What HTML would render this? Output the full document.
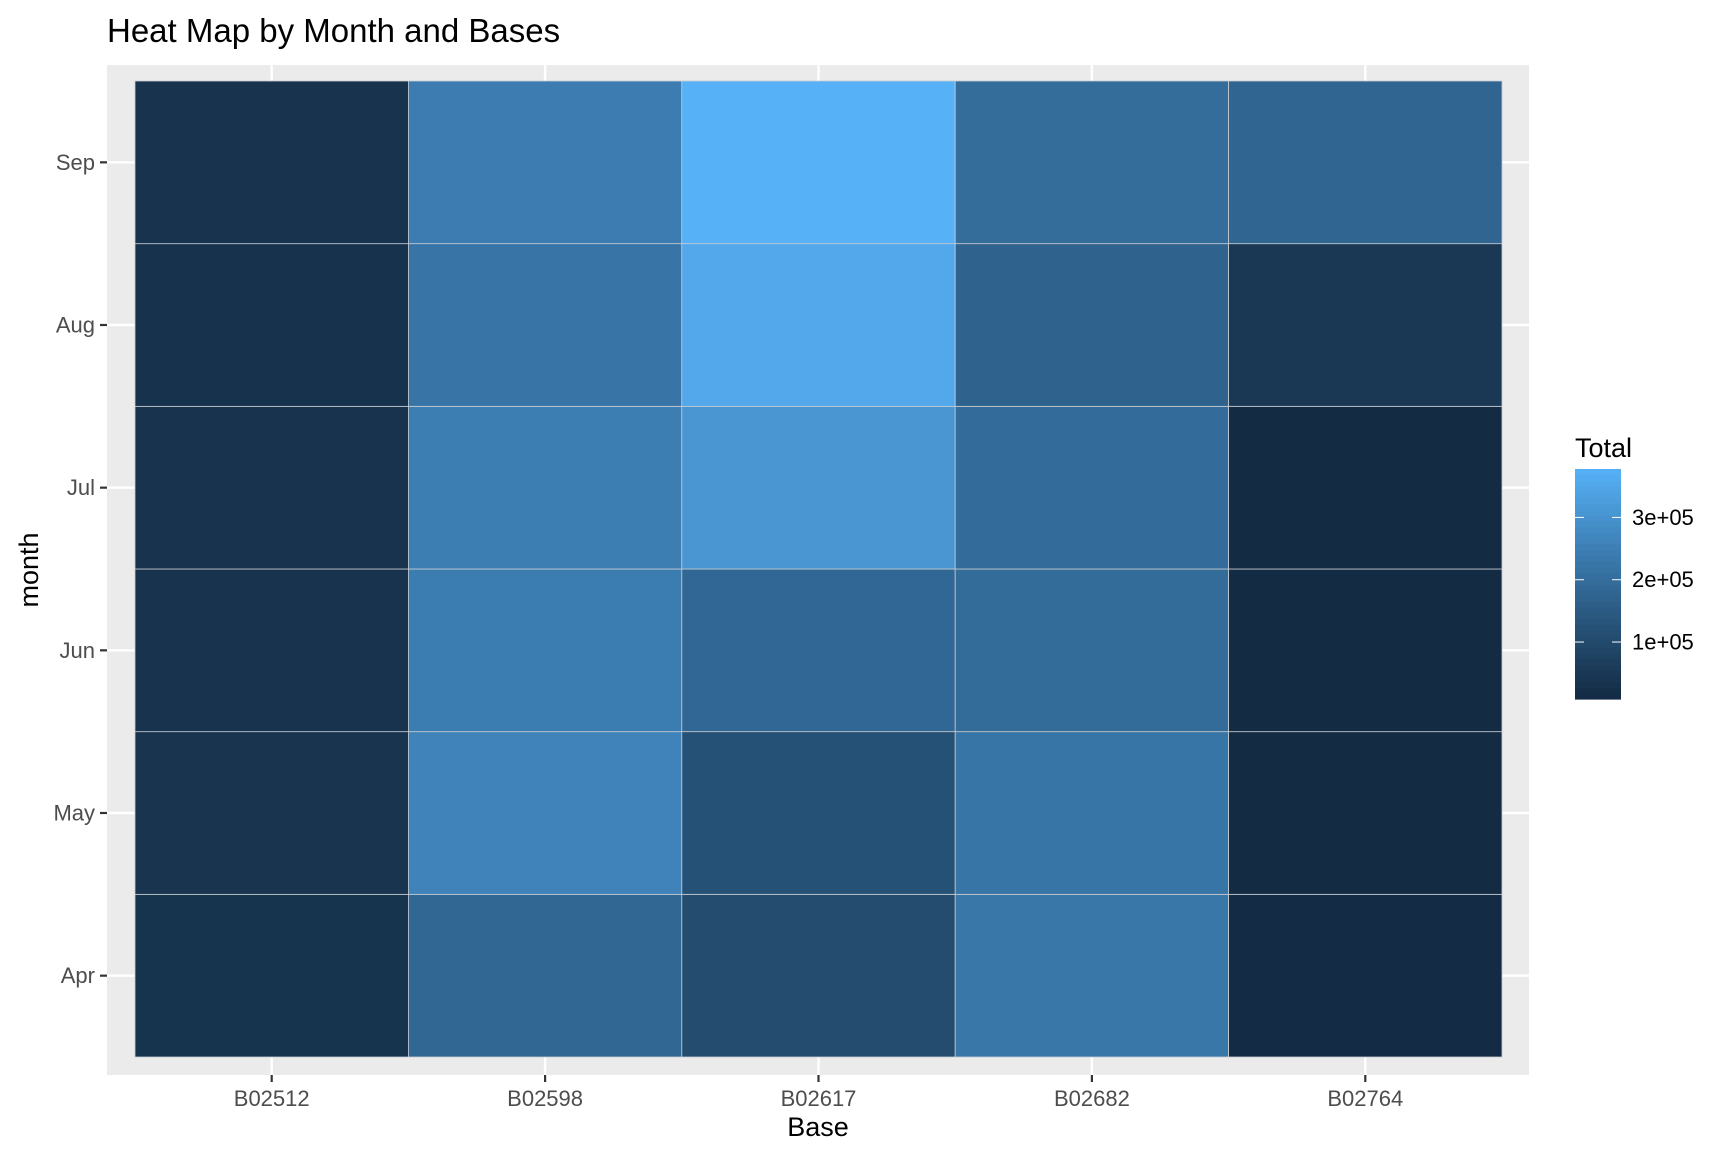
<!DOCTYPE html>
<html><head><meta charset="utf-8"><style>
html,body{margin:0;padding:0;background:#fff;}
svg{display:block;font-family:"Liberation Sans",Arial,sans-serif;}
</style></head><body>
<svg id="chart" width="1728" height="1152" viewBox="0 0 1728 1152" xmlns="http://www.w3.org/2000/svg">
<rect x="0" y="0" width="1728" height="1152" fill="#fff"/>
<text x="107" y="42" font-size="33" fill="#000">Heat Map by Month and Bases</text>
<rect x="107" y="65" width="1422" height="1010" fill="#EBEBEB"/>
<g id="grid"></g>
<g id="tiles"></g>
<g id="yaxis"></g>
<g id="xaxis"></g>
<text x="818" y="1136" font-size="27" text-anchor="middle" fill="#000">Base</text>
<text transform="translate(38,570) rotate(-90)" font-size="27" text-anchor="middle" fill="#000">month</text>
<g id="legend">
<text x="1575" y="457" font-size="27" fill="#000">Total</text>
</g>
</svg>
<script>
const bases = ["B02512","B02598","B02617","B02682","B02764"];
const months = ["Apr","May","Jun","Jul","Aug","Sep"];
const valB02512 = [35536,36765,32509,35021,31472,34370];
const valB02598 = [183263,260549,242975,245597,220129,240600];
const valB02617 = [108001,122734,184460,310160,355803,377695];
const valB02682 = [227808,222883,194926,196754,173280,197138];
const valB02764 = [9908,9504,8974,8589,48591,178333];
const legendTicks = [100000,200000,300000];
const legendLabels = ["1e+05","2e+05","3e+05"];

const series = [valB02512,valB02598,valB02617,valB02682,valB02764];
const NS="http://www.w3.org/2000/svg";
function mk(tag,attrs,parent){const e=document.createElementNS(NS,tag);for(const k in attrs)e.setAttribute(k,attrs[k]);parent.appendChild(e);return e;}
const x0=135,x1=1502,y0=81,y1=1057;
const cw=(x1-x0)/bases.length, rh=(y1-y0)/months.length;
function xCenter(i){return x0+cw*(i+0.5);}
function yCenter(j){return y1-rh*(j+0.5);}
const all=series.flat();const vmin=Math.min(...all),vmax=Math.max(...all);
function s2l(c){c/=255;return c<=0.04045?c/12.92:Math.pow((c+0.055)/1.055,2.4);}
function l2s(c){c=c<=0.0031308?12.92*c:1.055*Math.pow(c,1/2.4)-0.055;return Math.max(0,Math.min(255,Math.round(c*255)));}
function toLab(h){const r=s2l(parseInt(h.substr(1,2),16)),g=s2l(parseInt(h.substr(3,2),16)),b=s2l(parseInt(h.substr(5,2),16));
let X=(0.4124*r+0.3576*g+0.1805*b)/0.95047,Y=0.2126*r+0.7152*g+0.0722*b,Z=(0.0193*r+0.1192*g+0.9505*b)/1.08883;
const f=t=>t>0.008856?Math.cbrt(t):7.787*t+16/116;return [116*f(Y)-16,500*(f(X)-f(Y)),200*(f(Y)-f(Z))];}
function fromLab(L){const fy=(L[0]+16)/116,fx=fy+L[1]/500,fz=fy-L[2]/200;const fi=t=>t*t*t>0.008856?t*t*t:(t-16/116)/7.787;
const X=fi(fx)*0.95047,Y=fi(fy),Z=fi(fz)*1.08883;
const r=3.2406*X-1.5372*Y-0.4986*Z,g=-0.9689*X+1.8758*Y+0.0415*Z,b=0.0557*X-0.2040*Y+1.0570*Z;
return "rgb("+l2s(r)+","+l2s(g)+","+l2s(b)+")";}
const lo=toLab("#132B43"),hi=toLab("#56B1F7");
function color(v){const t=(v-vmin)/(vmax-vmin);return fromLab([0,1,2].map(i=>lo[i]+(hi[i]-lo[i])*t));}
const grid=document.getElementById('grid');
bases.forEach((b,i)=>{const l=mk('line',{x1:xCenter(i),x2:xCenter(i),y1:65,y2:1075,stroke:'#fff','stroke-width':2.4},grid);

});
months.forEach((m,j)=>{const l=mk('line',{x1:107,x2:1529,y1:yCenter(j),y2:yCenter(j),stroke:'#fff','stroke-width':2.4},grid);

});
const tiles=document.getElementById('tiles');
series.forEach((vals,i)=>{vals.forEach((v,j)=>{
const r=mk('rect',{x:xCenter(i)-cw/2,y:yCenter(j)-rh/2,width:cw,height:rh,fill:color(v),stroke:'#c8ccd2','stroke-width':0.8},tiles);

});});
const ya=document.getElementById('yaxis');
months.forEach((m,j)=>{const y=yCenter(j);
const t=mk('line',{x1:100,x2:107,y1:y,y2:y,stroke:'#333','stroke-width':2.2},ya);


const tx=mk('text',{x:95,y:y+7.5,'font-size':22,'text-anchor':'end',fill:'#4D4D4D'},ya);tx.textContent=m;

});
const xa=document.getElementById('xaxis');
bases.forEach((b,i)=>{const x=xCenter(i);
const t=mk('line',{x1:x,x2:x,y1:1075,y2:1082,stroke:'#333','stroke-width':2.2},xa);


const tx=mk('text',{x:x,y:1106,'font-size':22,'text-anchor':'middle',fill:'#4D4D4D'},xa);tx.textContent=b;

});
const lg=document.getElementById('legend');
const by0=469,by1=699,bx=1575,bw=46;
function ly(v){return by1-(v-vmin)/(vmax-vmin)*(by1-by0);}
const N=40;for(let k=0;k<N;k++){const v0=vmin+(vmax-vmin)*k/N,v1=vmin+(vmax-vmin)*(k+1)/N;
const r=mk('rect',{x:bx,y:ly(v1),width:bw,height:ly(v0)-ly(v1)+0.6,fill:color((v0+v1)/2)},lg);

}
legendTicks.forEach((v,k)=>{const y=ly(v);
const a=mk('line',{x1:bx,x2:bx+9,y1:y,y2:y,stroke:'#fff','stroke-width':1},lg);


const b=mk('line',{x1:bx+bw-9,x2:bx+bw,y1:y,y2:y,stroke:'#fff','stroke-width':1},lg);


const tx=mk('text',{x:1632,y:y+7.5,'font-size':22,fill:'#000'},lg);tx.textContent=legendLabels[k];

});
</script>
</body></html>
